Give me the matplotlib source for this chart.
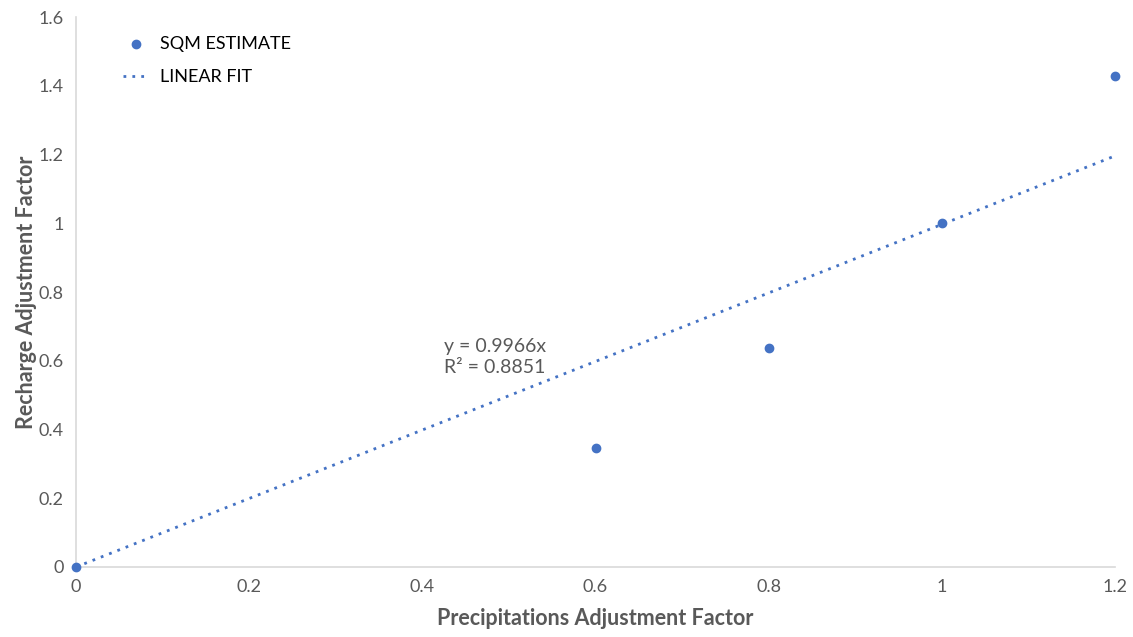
import numpy as np
import matplotlib.pyplot as plt

plt.rcParams['font.family'] = ['Lato', 'DejaVu Sans']

precip = [0, 0.6, 0.8, 1.0, 1.2]
recharge = [0, 0.346, 0.637, 1.0, 1.427]
slope = 0.9966
fit_x = [0, 1.2]

blue = '#4472C4'
grey = '#595959'

fig = plt.figure(figsize=(11.33, 6.37), dpi=100)
ax = fig.add_axes([0.0671, 0.1099, 0.9170, 0.8634])

ax.scatter(precip, recharge, s=36, color=blue, zorder=3, clip_on=False, label='SQM ESTIMATE')
ax.plot(fit_x, slope * np.array(fit_x), linestyle=(0, (1, 2.2)), linewidth=2,
        color=blue, label='LINEAR FIT')

ax.set_xlim(0, 1.2)
ax.set_ylim(0, 1.6)
ax.set_xticks([0, 0.2, 0.4, 0.6, 0.8, 1, 1.2])
ax.set_xticklabels(['0', '0.2', '0.4', '0.6', '0.8', '1', '1.2'])
ax.set_yticks([0, 0.2, 0.4, 0.6, 0.8, 1, 1.2, 1.4, 1.6])
ax.set_yticklabels(['0', '0.2', '0.4', '0.6', '0.8', '1', '1.2', '1.4', '1.6'])
ax.tick_params(length=0, labelsize=13, labelcolor=grey, pad=9)

for s in ['top', 'right']:
    ax.spines[s].set_visible(False)
for s in ['left', 'bottom']:
    ax.spines[s].set_color('#D9D9D9')
    ax.spines[s].set_linewidth(1.2)

ax.set_xlabel('Precipitations Adjustment Factor', fontsize=15.5, fontweight='bold', color=grey, labelpad=9)
ax.set_ylabel('Recharge Adjustment Factor', fontsize=15.5, fontweight='bold', color=grey, labelpad=1)

ax.text(0.425, 0.612, 'y = 0.9966x\nR² = 0.8851', fontsize=14, color=grey,
        va='center', ha='left', linespacing=1.3)

ax.legend(loc='upper left', bbox_to_anchor=(0.03, 0.995), frameon=False, fontsize=13,
          handlelength=1.4, labelspacing=0.95, handletextpad=0.6)

fig.savefig('out.png', dpi=100)
